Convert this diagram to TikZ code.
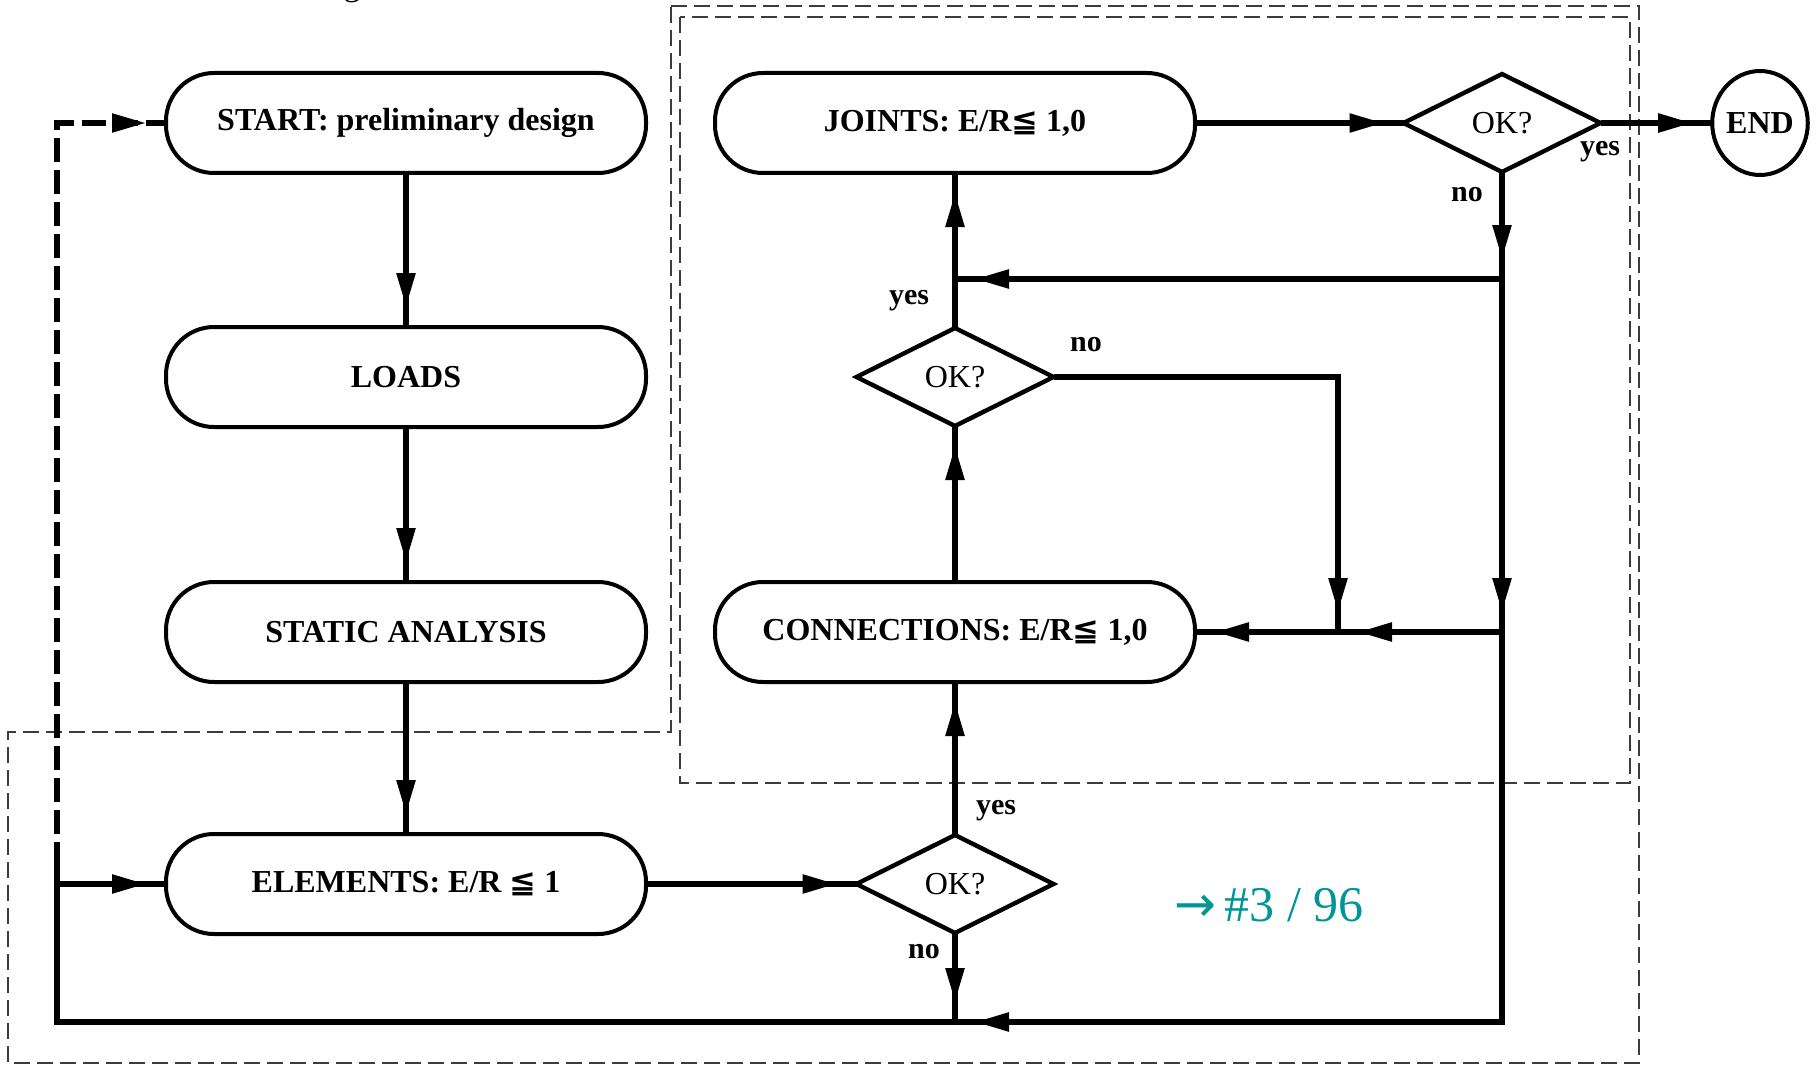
\documentclass[tikz,border=0pt]{standalone}
\usepackage{fontspec}
\setmainfont{Liberation Serif}
\newfontfamily\symfont{DejaVu Sans}
\usetikzlibrary{shapes.geometric,arrows.meta}
\definecolor{pagecol}{RGB}{0,150,150}
\definecolor{framecol}{RGB}{60,60,60}

\begin{document}
\begin{tikzpicture}[x=0.5pt,y=-0.5pt,
  box/.style={draw, line width=2pt, rounded corners=24pt, minimum width=240pt,
    minimum height=50pt, inner sep=0pt, outer sep=0pt,
    font=\fontsize{16}{18}\selectfont\bfseries},
  test/.style={draw, diamond, aspect=2, line width=2.2pt, minimum width=98.5pt,
    minimum height=49pt, inner sep=0pt, outer sep=0pt,
    font=\fontsize{16}{18}\selectfont},
  stop/.style={draw, ellipse, line width=2pt, minimum width=47.5pt,
    minimum height=52pt, inner sep=0pt, outer sep=0pt,
    font=\fontsize{16}{18}\selectfont\bfseries},
  flow/.style={line width=2.75pt},
  back/.style={line width=2.6pt, dash pattern=on 12pt off 4pt},
  arr/.style={postaction={draw, -{Triangle[length=17pt,width=9pt]}, shorten >=10pt}},
  lbl/.style={font=\fontsize{15}{17}\selectfont\bfseries, inner sep=0pt},
  frame/.style={draw=framecol, line width=1pt, dash pattern=on 8pt off 3.5pt},
]
\fill[white] (0,0) rectangle (1816,1065);
\useasboundingbox (0,0) rectangle (1816,1065);

% heading line above, mostly outside the page
\node[anchor=base, font=\fontsize{17}{20}\selectfont, inner sep=0pt] (ttl) at (352,-4) {g};

% group frames
\draw[frame] (671,6) -- (1639,6) -- (1639,1063) -- (8,1063) -- (8,732) -- (671,732) -- cycle;
\draw[frame] (680,17) rectangle (1630,783);

% process steps
\node[box] (start)  at (406,123) {START: preliminary design};
\node[box] (loads)  at (406,377) {LOADS};
\node[box] (static) at (406,632) {STATIC ANALYSIS};
\node[box] (elem)   at (406,884) {ELEMENTS: E/R {\symfont ≦} 1};
\node[box] (joints) at (955,123) {JOINTS: E/R{\symfont ≦} 1,0};
\node[box] (conn)   at (955,632) {CONNECTIONS: E/R{\symfont ≦} 1,0};
\node[test] (ok1) at (1502,123) {OK?};
\node[test] (ok2) at (955,377) {OK?};
\node[test] (ok3) at (955,884) {OK?};
\node[stop] (end) at (1760,123) {END};

% junction points
\coordinate (j1)  at (1502,279);
\coordinate (j2)  at (955,279);
\coordinate (j3)  at (1502,632);
\coordinate (j4)  at (1338,632);
\coordinate (j5)  at (1338,377);
\coordinate (j6)  at (1502,1022);
\coordinate (j7)  at (955,1022);
\coordinate (j8)  at (57,1022);
\coordinate (j9)  at (57,884);
\coordinate (j10) at (57,123);
\coordinate (j11) at (57,866);

% main sequence
\draw[flow,arr] (start.south) -- (loads.north);
\draw[flow,arr] (loads.south) -- (static.north);
\draw[flow,arr] (static.south) -- (elem.north);
\draw[flow,arr] (elem.east) -- (ok3.west);
\draw[flow,arr] (ok3.north) -- (conn.south);
\draw[flow,arr] (ok3.south) -- (j7);
\draw[flow,arr] (conn.north) -- (ok2.south);
\draw[flow,arr] (ok2.north) -- (joints.south);
\draw[flow,arr] (joints.east) -- (ok1.west);
\draw[flow,arr] (ok1.east) -- (end.west);

% return paths
\draw[flow,arr] (ok1.south) -- (j1);
\draw[flow,arr] (j1) -- (j2);
\draw[flow,arr] (j1) -- (j3);
\draw[flow,arr] (j3) -- (j4);
\draw[flow,arr] (j4) -- (conn.east);
\draw[flow,arr] (ok2.east) -- (j5) -- (j4);
\draw[flow,arr] (j3) -- (j6) -- (j7);
\draw[flow] (j7) -- (j8) -- (j11);
\draw[flow,arr] (j9) -- (elem.west);
\draw[back,arr] (j11) -- (j10) -- (start.west);

% branch labels
\node[lbl] at (1600,152) {yes};
\node[lbl] at (1467,195) {no};
\node[lbl] at (909,301) {yes};
\node[lbl] at (1086,345) {no};
\node[lbl] at (996,811) {yes};
\node[lbl] at (924,952) {no};

% page reference
\node[font=\fontsize{25}{28}\selectfont, text=pagecol, inner sep=0pt] (ref) at (1269,905) {{\symfont →}\,\#3 / 96};
\end{tikzpicture}
\end{document}
